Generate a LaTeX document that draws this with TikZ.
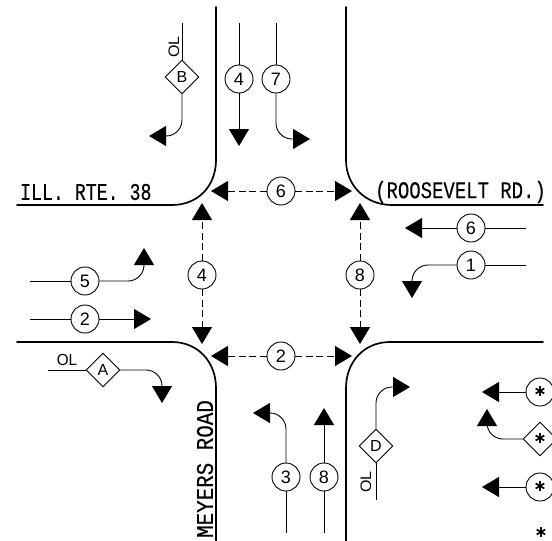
\documentclass[tikz,border=0pt]{standalone}
\usepackage{fontspec}
\setmainfont{Liberation Sans}
\newfontfamily\cadfont[FakeBold=0.3]{Liberation Mono}
\newfontfamily\starfont{DejaVu Sans Bold}
\usetikzlibrary{arrows.meta,shapes.geometric}
\tikzset{
  road/.style={line width=1.7pt,line cap=round},
  lane/.style={line width=0.9pt},
  arr/.style={lane,-{Triangle[length=17pt,width=20pt]}},
  turn/.style={arr,rounded corners=16pt},
  ped/.style={arr,dash pattern=on 7pt off 3.5pt},
  phase/.style={circle,draw,line width=0.9pt,minimum size=28pt,inner sep=0pt,fill=white,font=\fontsize{18}{18}\selectfont},
  olap/.style={diamond,draw,line width=0.9pt,minimum size=34pt,inner sep=0pt,fill=white,font=\fontsize{16}{16}\selectfont},
  lbl/.style={inner sep=0pt,font=\fontsize{16}{16}\selectfont,xscale=.95},
  roadname/.style={inner sep=0pt,font=\cadfont\fontsize{24}{24}\selectfont},
}
\newcommand{\starmark}{\raisebox{-4.8pt}[0pt][0pt]{\starfont\fontsize{16}{16}\selectfont ∗}}
\begin{document}
\begin{tikzpicture}[x=1pt,y=-1pt]
\useasboundingbox (0,0) rectangle (552,541);
\clip (0,0) rectangle (552,541);
% kerbs
\draw[road] (216,7) -- (216,160) .. controls (216,186) and (198,205) .. (172,205) -- (17,205);
\draw[road] (346,7) -- (346,160) .. controls (346,186) and (366,205) .. (392,205) -- (543,205);
\draw[road] (17,342) -- (172,342) .. controls (198,342) and (216,362) .. (216,388) -- (216,541);
\draw[road] (543,342) -- (390,342) .. controls (364,342) and (346,362) .. (346,388) -- (346,541);
% road names
\node[roadname,anchor=west,xscale=.76] (nrte) at (20,192) {ILL. RTE. 38};
\node[roadname,anchor=east,xscale=.79] (nroos) at (546,192) {(ROOSEVELT RD.)};
\node[roadname,rotate=90,xscale=.87] (nmey) at (205,469) {MEYERS ROAD};
% north approach
\node[olap] (B) at (182,77) {B};
\node[phase] (n4) at (239,79) {4};
\node[phase] (n7) at (276,79) {7};
\coordinate (Bs) at (182,23); \coordinate (Bt) at (149,136);
\coordinate (n4s) at (239,23); \coordinate (n4t) at (239,146);
\coordinate (n7s) at (276,23); \coordinate (n7t) at (310,139);
\draw[lane] (Bs) -- (B);
\draw[turn] (B.south) |- (Bt);
\draw[lane] (n4s) -- (n4);
\draw[arr] (n4) -- (n4t);
\draw[lane] (n7s) -- (n7);
\draw[turn] (n7.south) |- (n7t);
\node[lbl,rotate=90] (olb) at (174,47) {OL};
% pedestrian crossings
\node[phase] (p6) at (281,191) {6};
\node[phase] (p2) at (281,356) {2};
\node[phase] (p4) at (202,275) {4};
\node[phase] (p8) at (360,275) {8};
\coordinate (p6l) at (211,191); \coordinate (p6r) at (352,191);
\coordinate (p2l) at (211,356); \coordinate (p2r) at (352,356);
\coordinate (p4u) at (202,203); \coordinate (p4d) at (202,344);
\coordinate (p8u) at (360,203); \coordinate (p8d) at (360,344);
\draw[ped] (p6) -- (p6l); \draw[ped] (p6) -- (p6r);
\draw[ped] (p2) -- (p2l); \draw[ped] (p2) -- (p2r);
\draw[ped] (p4) -- (p4u); \draw[ped] (p4) -- (p4d);
\draw[ped] (p8) -- (p8u); \draw[ped] (p8) -- (p8d);
% east approach
\node[phase] (e6) at (471,228) {6};
\node[phase] (e1) at (471,265) {1};
\coordinate (e6s) at (526,228); \coordinate (e6t) at (405,228);
\coordinate (e1s) at (526,265); \coordinate (e1t) at (412,298);
\draw[lane] (e6s) -- (e6);
\draw[arr] (e6) -- (e6t);
\draw[lane] (e1s) -- (e1);
\draw[turn] (e1.west) -| (e1t);
% west approach
\node[phase] (w5) at (85,281) {5};
\node[phase] (w2) at (85,319) {2};
\node[olap] (A) at (103,370) {A};
\coordinate (w5s) at (30,281); \coordinate (w5t) at (144,248);
\coordinate (w2s) at (30,319); \coordinate (w2t) at (151,319);
\coordinate (As) at (48,370); \coordinate (At) at (162,403);
\draw[lane] (w5s) -- (w5);
\draw[turn] (w5.east) -| (w5t);
\draw[lane] (w2s) -- (w2);
\draw[arr] (w2) -- (w2t);
\draw[lane] (As) -- (A);
\draw[turn] (A.east) -| (At);
\node[lbl] (ola) at (67,360) {OL};
% south approach
\node[phase] (s3) at (286,477) {3};
\node[phase] (s8) at (324,477) {8};
\node[olap] (D) at (376,446) {D};
\coordinate (s3s) at (286,533); \coordinate (s3t) at (253,413);
\coordinate (s8s) at (324,533); \coordinate (s8t) at (324,408);
\coordinate (Ds) at (376,500); \coordinate (Dt) at (410,387);
\draw[lane] (s3s) -- (s3);
\draw[turn] (s3.north) |- (s3t);
\draw[lane] (s8s) -- (s8);
\draw[arr] (s8) -- (s8t);
\draw[lane] (Ds) -- (D);
\draw[turn] (D.north) |- (Dt);
\node[lbl,rotate=90] (old) at (366,482) {OL};
% legend
\node[phase] (k1) at (540,392) {\starmark};
\node[olap] (k2) at (540,439) {\starmark};
\node[phase] (k3) at (540,487) {\starmark};
\coordinate (k1t) at (482,392); \coordinate (k2t) at (487,409); \coordinate (k3t) at (482,487);
\draw[arr] (k1) -- (k1t);
\draw[turn] (k2.west) -| (k2t);
\draw[arr] (k3) -- (k3t);
\node[inner sep=0pt] (k4) at (541,533) {\starmark};
\end{tikzpicture}
\end{document}
